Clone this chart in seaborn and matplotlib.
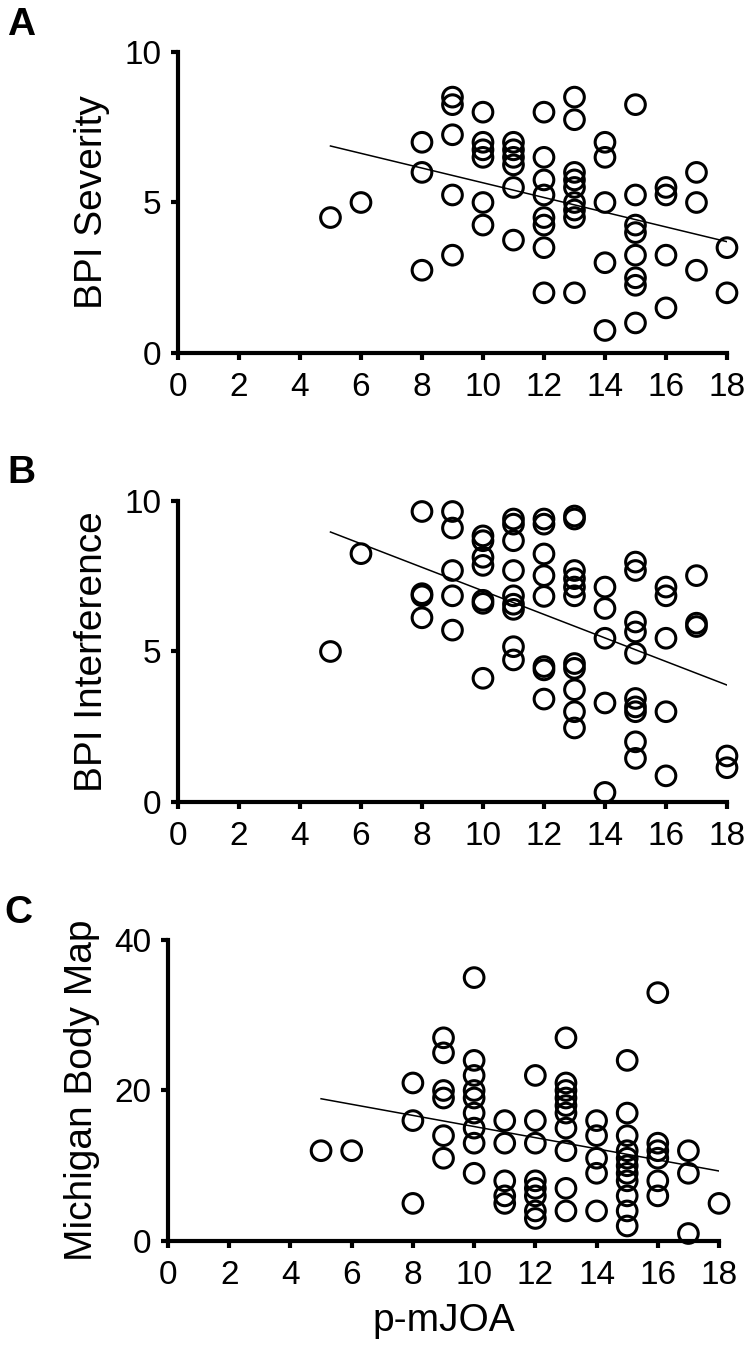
import seaborn as sns
import matplotlib.pyplot as plt
import matplotlib
import pandas as pd

matplotlib.rcParams['font.family'] = ['Liberation Sans', 'DejaVu Sans']

# p-mJOA vs BPI severity (panel A)
x_sev = [5, 6, 8, 8, 8,
         9, 9, 9, 9, 9,
         10, 10, 10, 10, 10, 10,
         11, 11, 11, 11, 11, 11,
         12, 12, 12, 12, 12, 12, 12, 12,
         13, 13, 13, 13, 13, 13, 13, 13, 13,
         14, 14, 14, 14, 14,
         15, 15, 15, 15, 15, 15, 15, 15,
         16, 16, 16, 16,
         17, 17, 17,
         18, 18]
y_sev = [4.5, 5, 7, 6, 2.75,
         8.5, 8.25, 7.25, 5.25, 3.25,
         8, 7, 6.75, 6.5, 5, 4.25,
         7, 6.75, 6.5, 6.25, 5.5, 3.75,
         8, 6.5, 5.75, 5.25, 4.5, 4.25, 3.5, 2,
         8.5, 7.75, 6, 5.75, 5.5, 5, 4.75, 4.5, 2,
         7, 6.5, 5, 3, 0.75,
         8.25, 5.25, 4.25, 4, 3.25, 2.5, 2.25, 1,
         5.5, 5.25, 3.25, 1.5,
         6, 5, 2.75,
         3.5, 2]

# p-mJOA vs BPI interference (panel B)
x_int = [5, 6, 8, 8, 8, 8,
         9, 9, 9, 9, 9,
         10, 10, 10, 10, 10, 10, 10,
         11, 11, 11, 11, 11, 11, 11, 11, 11,
         12, 12, 12, 12, 12, 12, 12, 12,
         13, 13, 13, 13, 13, 13, 13, 13, 13, 13, 13,
         14, 14, 14, 14, 14,
         15, 15, 15, 15, 15, 15, 15, 15, 15, 15,
         16, 16, 16, 16, 16,
         17, 17, 17,
         18, 18]
y_int = [5, 8.25, 9.65, 6.92, 6.85, 6.12,
         9.65, 9.1, 7.69, 6.85, 5.71,
         8.84, 8.68, 8.13, 7.86, 6.7, 6.6, 4.11,
         9.4, 9.23, 8.68, 7.69, 6.85, 6.57, 6.4, 5.16, 4.72,
         9.4, 9.23, 8.24, 7.52, 6.83, 4.5, 4.39, 3.42,
         9.5, 9.4, 7.69, 7.42, 7.14, 6.85, 4.6, 4.44, 3.73, 3.0, 2.46,
         7.14, 6.43, 5.44, 3.29, 0.32,
         7.97, 7.69, 5.98, 5.65, 4.94, 3.44, 3.16, 3.0, 2.0, 1.45,
         7.14, 6.85, 5.44, 3.0, 0.87,
         7.52, 5.94, 5.83,
         1.53, 1.14]

# p-mJOA vs Michigan Body Map (panel C)
x_mbm = [5, 6, 8, 8, 8,
         9, 9, 9, 9, 9, 9,
         10, 10, 10, 10, 10, 10, 10, 10, 10,
         11, 11, 11, 11, 11,
         12, 12, 12, 12, 12, 12, 12, 12,
         13, 13, 13, 13, 13, 13, 13, 13, 13, 13,
         14, 14, 14, 14, 14,
         15, 15, 15, 15, 15, 15, 15, 15, 15, 15, 15,
         16, 16, 16, 16, 16, 16,
         17, 17, 17,
         18]
y_mbm = [12, 12, 21, 16, 5,
         27, 25, 20, 19, 14, 11,
         35, 24, 22, 20, 19, 17, 15, 13, 9,
         16, 13, 8, 6, 5,
         22, 16, 13, 8, 7, 6, 4, 3,
         27, 21, 20, 19, 18, 17, 15, 12, 7, 4,
         16, 14, 11, 9, 4,
         24, 17, 14, 12, 11, 10, 9, 8, 6, 4, 2,
         33, 13, 12, 11, 8, 6,
         12, 9, 1,
         5]

panels = [
    ('A', x_sev, y_sev, 'BPI Severity', [0, 5, 10], [0.2373, 0.7425, 0.732, 0.2196]),
    ('B', x_int, y_int, 'BPI Interference', [0, 5, 10], [0.2373, 0.4150, 0.732, 0.2196]),
    ('C', x_mbm, y_mbm, 'Michigan Body Map', [0, 20, 40], [0.2240, 0.0948, 0.7347, 0.2196]),
]
letter_pos = [(0.010, 0.995), (0.010, 0.668), (0.006, 0.347)]

fig = plt.figure(figsize=(7.5, 13.71), dpi=100)

for i, (letter, xs, ys, ylab, yt, rect) in enumerate(panels):
    ax = fig.add_axes(rect)
    df = pd.DataFrame({'x': xs, 'y': ys})
    sns.regplot(data=df, x='x', y='y', ax=ax, ci=None, truncate=True,
                scatter_kws=dict(s=200, facecolors='none', edgecolors='black',
                                 linewidths=2.2, alpha=1, clip_on=False, zorder=3),
                line_kws=dict(color='black', lw=1.1))
    ax.set_xlim(0, 18)
    ax.set_ylim(yt[0], yt[-1])
    ax.set_xticks(range(0, 19, 2))
    ax.set_yticks(yt)
    for s in ['top', 'right']:
        ax.spines[s].set_visible(False)
    for s in ['left', 'bottom']:
        ax.spines[s].set_linewidth(3)
        ax.spines[s].set_color('black')
    ax.tick_params(direction='out', length=5, width=3, labelsize=24, colors='black')
    ax.tick_params(axis='x', pad=9)
    ax.tick_params(axis='y', pad=7)
    ax.set_ylabel(ylab, fontsize=28, labelpad=10)
    if i == 2:
        ax.set_xlabel('p-mJOA', fontsize=28, labelpad=8)
    else:
        ax.set_xlabel('')
    fig.text(letter_pos[i][0], letter_pos[i][1], letter, fontsize=28,
             fontweight='bold', ha='left', va='top')

fig.savefig('out.png', dpi=100)
